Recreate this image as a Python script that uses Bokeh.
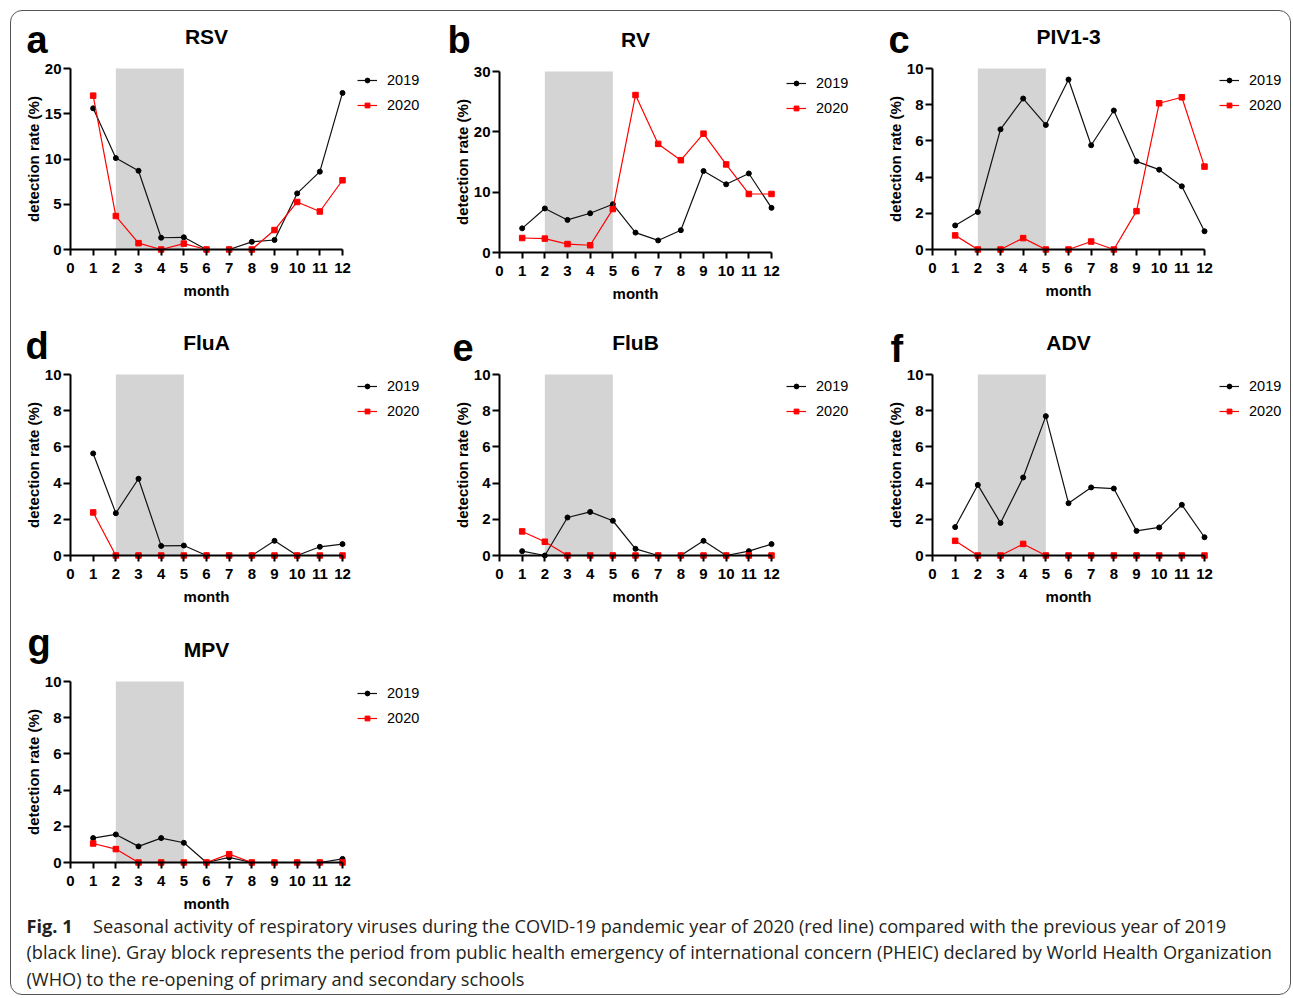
from bokeh.plotting import figure
from bokeh.models import Range1d, Label, Legend, LegendItem, FixedTicker, Spacer
from bokeh.layouts import column, row
from bokeh.embed import file_html
from bokeh.resources import INLINE

# ---------------- data ----------------
months = [1, 2, 3, 4, 5, 6, 7, 8, 9, 10, 11, 12]
month_ticks = [0, 1, 2, 3, 4, 5, 6, 7, 8, 9, 10, 11, 12]
pheic_start = [2]
pheic_end = [5]
series_labels = ["2019", "2020"]

rsv_2019 = [15.6, 10.1, 8.7, 1.3, 1.35, 0, 0, 0.85, 1.05, 6.2, 8.6, 17.3]
rsv_2020 = [17.0, 3.7, 0.7, 0, 0.65, 0, 0, 0, 2.15, 5.25, 4.2, 7.65]
rv_2019 = [4.0, 7.3, 5.4, 6.5, 8.0, 3.3, 2.0, 3.7, 13.5, 11.3, 13.1, 7.4]
rv_2020 = [2.4, 2.3, 1.4, 1.2, 7.2, 26.1, 18.0, 15.3, 19.7, 14.6, 9.7, 9.7]
piv_2019 = [1.33, 2.07, 6.64, 8.34, 6.88, 9.39, 5.76, 7.68, 4.87, 4.41, 3.49, 1.01]
piv_2020 = [0.78, 0, 0, 0.63, 0, 0, 0.44, 0, 2.12, 8.08, 8.41, 4.58]
flua_2019 = [5.64, 2.34, 4.24, 0.53, 0.55, 0, 0, 0, 0.81, 0, 0.48, 0.63]
flua_2020 = [2.38, 0, 0, 0, 0, 0, 0, 0, 0, 0, 0, 0]
flub_2019 = [0.24, 0, 2.10, 2.41, 1.92, 0.37, 0, 0, 0.81, 0, 0.24, 0.63]
flub_2020 = [1.33, 0.76, 0, 0, 0, 0, 0, 0, 0, 0, 0, 0]
adv_2019 = [1.57, 3.90, 1.80, 4.31, 7.70, 2.89, 3.76, 3.70, 1.36, 1.55, 2.80, 1.01]
adv_2020 = [0.81, 0, 0, 0.64, 0, 0, 0, 0, 0, 0, 0, 0]
mpv_2019 = [1.35, 1.55, 0.89, 1.35, 1.09, 0, 0.28, 0, 0, 0, 0, 0.20]
mpv_2020 = [1.05, 0.74, 0, 0, 0, 0, 0.46, 0, 0, 0, 0, 0]

panel_letters = ["a", "b", "c", "d", "e", "f", "g"]
panel_titles = ["RSV", "RV", "PIV1-3", "FluA", "FluB", "ADV", "MPV"]
y_max = [20, 30, 10, 10, 10, 10, 10]
y_ticks_rsv = [0, 5, 10, 15, 20]
y_ticks_rv = [0, 10, 20, 30]
y_ticks_other = [0, 2, 4, 6, 8, 10]

x_label = "month"
y_label = "detection rate (%)"
caption_fig = "Fig. 1"
caption_lines = [
    "Seasonal activity of respiratory viruses during the COVID-19 pandemic year of 2020 (red line) compared with the previous year of 2019",
    "(black line). Gray block represents the period from public health emergency of international concern (PHEIC) declared by World Health Organization",
    "(WHO) to the re-opening of primary and secondary schools",
]

# ---------------- styling / geometry ----------------
FONT = "Liberation Sans"
CAP_FONT = "Open Sans"
AX_W = 272          # px spanned by months 0..12
AX_H = 181          # px spanned by 0..ymax
SX = AX_W / 12.0
LETTER_SIZE = 38


def make_panel(i, v19, v20, yticks, FL, FT, W, H, X0, YT, letter_dx, letter_dy):
    """FL, FT: page position of figure; X0: page x of month 0; YT: page y of ymax."""
    ymax = y_max[i]
    SY = AX_H / ymax
    x_start = -(X0 - FL) / SX
    x_end = (FL + W - X0) / SX
    y_end = ymax + (YT - FT) / SY
    y_start = ymax - (FT + H - YT) / SY
    p = figure(width=W, height=H,
               x_range=Range1d(x_start, x_end), y_range=Range1d(y_start, y_end),
               output_backend="svg", toolbar_location=None, min_border=0)
    p.border_fill_color = None
    p.background_fill_color = None
    p.outline_line_color = None
    p.xgrid.visible = False
    p.ygrid.visible = False

    p.quad(left=pheic_start, right=pheic_end, bottom=[0], top=[ymax],
           fill_color="#d4d4d4", line_color=None)
    l19 = p.line(months, v19, line_color="#111111", line_width=1.2)
    s19 = p.scatter(months, v19, marker="circle", size=5,
                    fill_color="black", line_color="black")
    l20 = p.line(months, v20, line_color="#ff0000", line_width=1.2)
    s20 = p.scatter(months, v20, marker="square", size=5.5,
                    fill_color="#ff0000", line_color="#ff0000")

    xa = p.xaxis[0]
    ya = p.yaxis[0]
    xa.fixed_location = 0
    ya.fixed_location = 0
    xa.bounds = (0, 12)
    ya.bounds = (0, ymax)
    xa.ticker = FixedTicker(ticks=month_ticks)
    ya.ticker = FixedTicker(ticks=yticks)
    xa.axis_label = x_label
    ya.axis_label = y_label
    for ax in (xa, ya):
        ax.axis_line_width = 2
        ax.axis_line_color = "black"
        ax.major_tick_line_width = 2
        ax.major_tick_line_color = "black"
        ax.minor_tick_line_color = None
        ax.major_tick_in = 0
        ax.major_label_text_font = FONT
        ax.major_label_text_font_style = "bold"
        ax.major_label_text_font_size = "15px"
        ax.major_label_text_color = "black"
        ax.axis_label_text_font = FONT
        ax.axis_label_text_font_style = "bold"
        ax.axis_label_text_font_size = "15px"
        ax.axis_label_text_color = "black"
    xa.major_tick_out = 6
    xa.major_label_standoff = 7
    xa.axis_label_standoff = 6
    ya.major_tick_out = 7
    ya.major_label_standoff = 2
    ya.axis_label_standoff = 0

    p.add_layout(Label(x=letter_dx / SX, y=ymax + (letter_dy + 0.3465 * LETTER_SIZE) / SY,
                       text=panel_letters[i], text_font=FONT, text_font_style="bold",
                       text_font_size=f"{LETTER_SIZE}px", text_baseline="middle",
                       text_align="left", text_color="black"))
    p.add_layout(Label(x=6, y=ymax + 32.3 / SY, text=panel_titles[i],
                       text_font=FONT, text_font_style="bold", text_font_size="21px",
                       text_baseline="middle", text_align="center",
                       text_color="black"))

    item_h = 17
    gap = 8
    leg_h = 2 * item_h + gap
    legend = Legend(items=[LegendItem(label=series_labels[0], renderers=[l19, s19]),
                           LegendItem(label=series_labels[1], renderers=[l20, s20])],
                    location=(X0 - FL + 287, FT + H - (YT + 12.3 - item_h / 2) - leg_h),
                    orientation="vertical",
                    padding=0, margin=0, spacing=gap, glyph_width=20, glyph_height=12,
                    label_standoff=10, label_height=item_h,
                    label_text_font=FONT, label_text_font_size="14.5px",
                    label_text_color="black",
                    border_line_color=None, background_fill_alpha=0)
    p.add_layout(legend, "center")
    return p


# figure page positions: columns 10|440|870|1291, rows 10|313|620|912|995
pa = make_panel(0, rsv_2019, rsv_2020, y_ticks_rsv, 10, 10, 430, 303, 70, 68, -44, 15)
pb = make_panel(1, rv_2019, rv_2020, y_ticks_rv, 440, 10, 430, 303, 499, 71, -52, 18)
pc = make_panel(2, piv_2019, piv_2020, y_ticks_other, 870, 10, 421, 303, 932, 68, -44, 15)
pd = make_panel(3, flua_2019, flua_2020, y_ticks_other, 10, 313, 430, 307, 70, 374, -45, 15)
pe = make_panel(4, flub_2019, flub_2020, y_ticks_other, 440, 313, 430, 307, 499, 374, -47, 14)
pf = make_panel(5, adv_2019, adv_2020, y_ticks_other, 870, 313, 421, 307, 932, 374, -42, 12)
pg = make_panel(6, mpv_2019, mpv_2020, y_ticks_other, 10, 620, 430, 292, 70, 681, -43, 25)

CAP_W, CAP_H = 1281, 83
cap = figure(width=CAP_W, height=CAP_H, x_range=Range1d(0, CAP_W), y_range=Range1d(CAP_H, 0),
             output_backend="svg", toolbar_location=None,
             x_axis_type=None, y_axis_type=None, min_border=0)
cap.border_fill_color = None
cap.background_fill_color = None
cap.outline_line_color = None
cap_color = "#231f20"
CAP_SIZE = "18.2px"
cap.add_layout(Label(x=16, y=13, text=caption_fig, text_font=CAP_FONT, text_font_style="bold",
                     text_font_size=CAP_SIZE, text_baseline="middle", text_color=cap_color))
cap.add_layout(Label(x=82.5, y=13, text=caption_lines[0], text_font=CAP_FONT,
                     text_font_size=CAP_SIZE, text_baseline="middle", text_color=cap_color))
cap.add_layout(Label(x=16, y=39.5, text=caption_lines[1], text_font=CAP_FONT,
                     text_font_size=CAP_SIZE, text_baseline="middle", text_color=cap_color))
cap.add_layout(Label(x=16, y=66, text=caption_lines[2], text_font=CAP_FONT,
                     text_font_size=CAP_SIZE, text_baseline="middle", text_color=cap_color))

inner = column(row(pa, pb, pc), row(pd, pe, pf), row(pg), cap,
               styles={"outline": "1.5px solid #555555", "outline-offset": "-1.5px",
                       "border-radius": "12px"})
layout = row(Spacer(width=10, height=10), column(Spacer(width=10, height=10), inner))

open("out.html", "w").write(file_html(layout, INLINE))
